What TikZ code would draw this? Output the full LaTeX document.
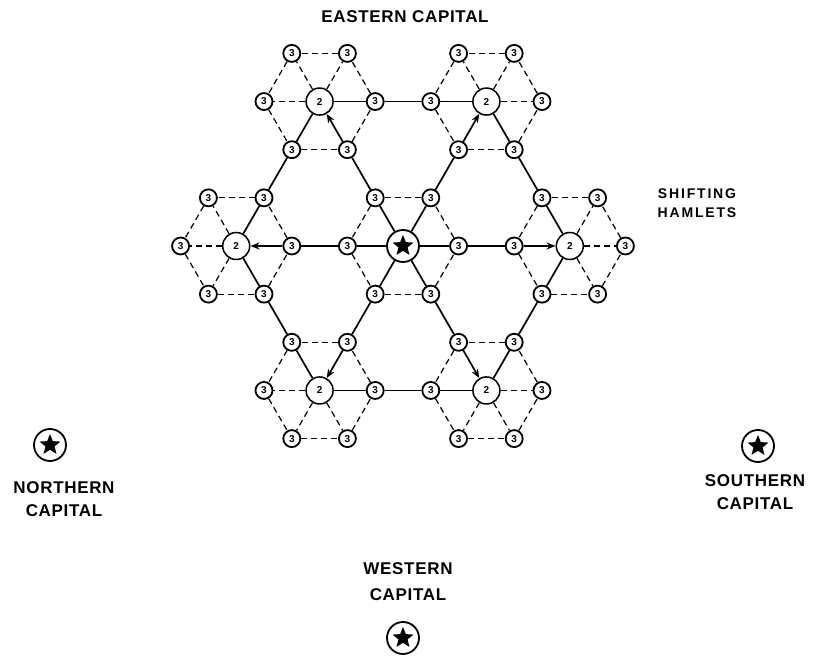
\documentclass[tikz,border=0pt]{standalone}
\usepackage{fontspec}
\setmainfont{Liberation Sans}
\newfontfamily\lettering{Liberation Sans}[LetterSpace=4]
\newfontfamily\smalllettering{Liberation Sans}[LetterSpace=13]
\usetikzlibrary{arrows.meta,calc,shapes.geometric}

\begin{document}
\begin{tikzpicture}[x=1pt,y=1pt,
  hamlet/.style={circle,draw,line width=1.8pt,minimum size=17pt,inner sep=0pt,font=\bfseries\fontsize{10}{10}\selectfont},
  village/.style={circle,draw,line width=1.5pt,minimum size=27pt,inner sep=0pt,font=\bfseries\fontsize{10}{10}\selectfont},
  capital/.style={circle,draw,line width=1.8pt,minimum size=32pt,inner sep=0pt,
    path picture={\node[star,star points=5,star point ratio=2.3,fill,inner sep=0pt,minimum size=22pt] at (path picture bounding box.center) {};}},
  road/.style={line width=1.7pt},
  trail/.style={line width=1.2pt,dash pattern=on 6pt off 4pt},
  title/.style={font=\lettering\bfseries\fontsize{17}{23}\selectfont,align=center}]
\useasboundingbox (0,0) rectangle (820,667);
\node[capital] (c) at (403,421) {};
\foreach \k in {1,...,6}{
  \node[hamlet] (c\k) at ($(c)+({60*\k-60}:55.6)$) {3};
  \node[village] (h\k) at ($(c)+({60*\k-60}:166.8)$) {2};
  \foreach \m in {1,...,6}
    \node[hamlet] (h\k-\m) at ($(h\k)+({60*\m-60}:55.6)$) {3};
}
\foreach \k in {1,...,6}{
  \pgfmathtruncatemacro\nexthub{mod(\k,6)+1}
  \pgfmathtruncatemacro\tonext{mod(\k+1,6)+1}
  \pgfmathtruncatemacro\tostar{mod(\k+2,6)+1}
  \pgfmathtruncatemacro\kbefore{mod(\k+4,6)+1}
  \draw[road] (c) -- (c\k) -- (h\k-\tostar);
  \draw[road,-{Stealth[length=9pt,width=7pt]}] (h\k-\tostar) -- (h\k);
  \draw[road] (h\k) -- (h\k-\tonext) -- (h\nexthub-\kbefore) -- (h\nexthub);
  \draw[trail] (c\k) -- (c\nexthub);
  \draw[trail] (h\k) -- (h\k-\k);
  \draw[trail] (h\k) -- (h\k-\nexthub);
  \draw[trail] (h\k) -- (h\k-\kbefore);
  \foreach \m in {1,...,6}{
    \pgfmathtruncatemacro\mm{mod(\m,6)+1}
    \draw[trail] (h\k-\m) -- (h\k-\mm);
  }
}
\node[title] (east) at (405,650) {EASTERN CAPITAL};
\node[font=\smalllettering\bfseries\fontsize{14}{19}\selectfont,align=center] (shifting) at (697,464) {SHIFTING\\HAMLETS};
\node[capital] (north) at (50,222) {};
\node[title] (northlabel) at (64,168) {NORTHERN\\CAPITAL};
\node[capital] (south) at (758,221) {};
\node[title] (southlabel) at (755,175) {SOUTHERN\\CAPITAL};
\node[title] (westlabel) at (408,85) {WESTERN\\[3pt]CAPITAL};
\node[capital] (west) at (403,29) {};
\end{tikzpicture}
\end{document}
